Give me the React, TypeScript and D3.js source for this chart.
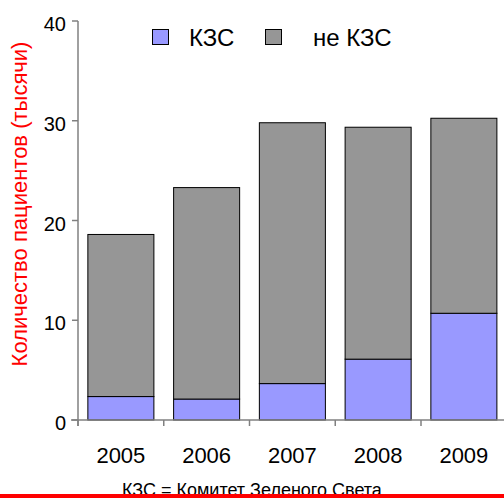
import React from "react";
import * as d3 from "d3";

const years = ["2005", "2006", "2007", "2008", "2009"];
const kzs = [2.35, 2.1, 3.65, 6.1, 10.7];
const total = [18.6, 23.3, 29.8, 29.35, 30.25];
const yTicks = [0, 10, 20, 30, 40];
const seriesNames = ["КЗС", "не КЗС"];
const colors = ["#9999FF", "#969696"];

const W = 504;
const H = 498;
const FONT = "'Liberation Sans', Arial, sans-serif";

export default function App() {
  const x = d3
    .scaleBand<string>()
    .domain(years)
    .range([78, 506.75])
    .paddingInner(0.23)
    .paddingOuter(0.115);
  const y = d3.scaleLinear().domain([0, 40]).range([420, 21]);
  const step = x.step();
  const x0 = 78;
  const boundaries = d3.range(years.length + 1).map((i) => x0 + i * step);

  const stack = years.map((yr, i) => ({
    yr,
    parts: [
      { y0: 0, y1: kzs[i], c: colors[0] },
      { y0: kzs[i], y1: total[i], c: colors[1] },
    ],
  }));

  return (
    <svg
      width={W}
      height={H}
      style={{ position: "absolute", left: 0, top: 0, background: "#fff" }}
      fontFamily={FONT}
    >
      {/* bars */}
      {stack.map((d) =>
        d.parts.map((p, j) => (
          <rect
            key={d.yr + j}
            x={x(d.yr)!}
            y={y(p.y1)}
            width={x.bandwidth()}
            height={y(p.y0) - y(p.y1)}
            fill={p.c}
            stroke="#000"
            strokeWidth={1}
          />
        ))
      )}
      {/* y axis */}
      <line x1={78} x2={78} y1={y(40)} y2={426} stroke="#808080" strokeWidth={1.5} />
      {yTicks.map((t) => (
        <g key={t}>
          <line x1={72} x2={78} y1={y(t)} y2={y(t)} stroke="#808080" strokeWidth={1.5} />
          <text x={66} y={y(t) + 10} textAnchor="end" fontSize={20} fill="#000">
            {t}
          </text>
        </g>
      ))}
      {/* x axis */}
      <line x1={71} x2={W} y1={y(0)} y2={y(0)} stroke="#808080" strokeWidth={1.5} />
      {boundaries.map((b, i) => (
        <line key={i} x1={b} x2={b} y1={y(0)} y2={426} stroke="#808080" strokeWidth={1.5} />
      ))}
      {years.map((yr) => (
        <text
          key={yr}
          x={x(yr)! + x.bandwidth() / 2}
          y={463}
          textAnchor="middle"
          fontSize={22}
          fill="#000"
        >
          {yr}
        </text>
      ))}
      {/* y label */}
      <text
        transform={`translate(27,204) rotate(-90)`}
        textAnchor="middle"
        fontSize={22}
        fill="#ff0000"
      >
        Количество пациентов (тысячи)
      </text>
      {/* legend */}
      <rect x={152.5} y={29.5} width={16} height={15} fill={colors[0]} stroke="#000" strokeWidth={1} />
      <text x={189} y={46} fontSize={24} fill="#000">
        {seriesNames[0]}
      </text>
      <rect x={265.5} y={29.5} width={16} height={15} fill={colors[1]} stroke="#000" strokeWidth={1} />
      <text x={313} y={46} fontSize={24} fill="#000">
        {seriesNames[1]}
      </text>
      {/* footnote */}
      <text x={122} y={496} fontSize={18} fill="#000">
        КЗС = Комитет Зеленого Света
      </text>
      <rect x={0} y={494} width={W} height={4} fill="#ff0000" />
    </svg>
  );
}
